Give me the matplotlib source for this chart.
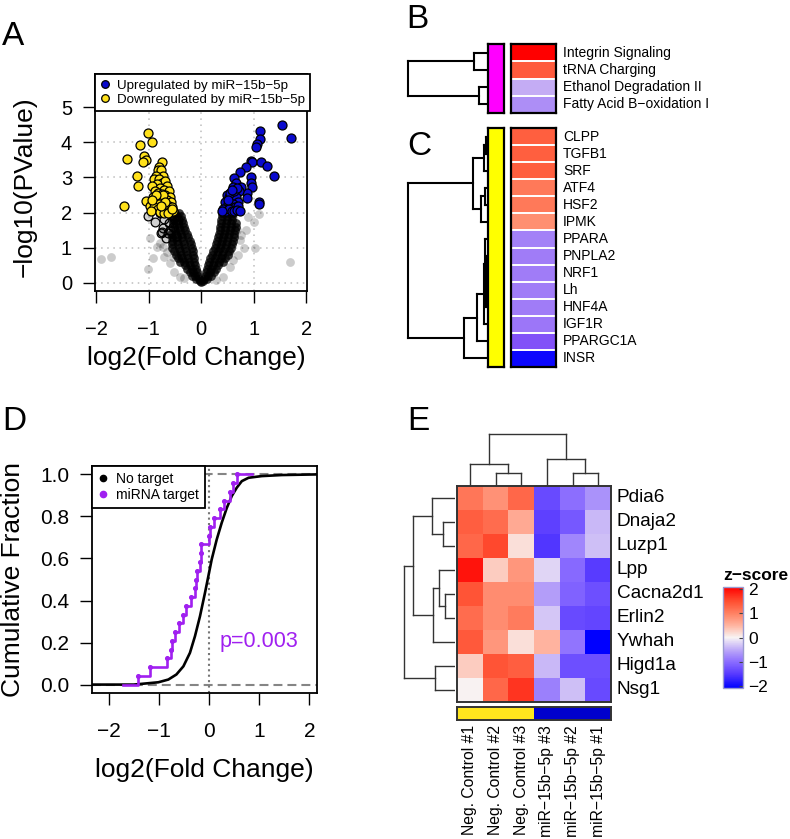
import numpy as np
import matplotlib
matplotlib.use("Agg")
import matplotlib.pyplot as plt
from matplotlib.colors import LinearSegmentedColormap, ListedColormap, Normalize
from matplotlib.lines import Line2D

plt.rcParams['font.family'] = ['Liberation Sans', 'DejaVu Sans']

# %% data -------------------------------------------------------------
# A: volcano plot (log2FC, -log10 p)
volcano_core = [
    (0.00, 0.02), (-0.03, 0.05), (0.03, 0.05),
    (-0.05, 0.1), (-0.10, 0.1), (0.05, 0.1), (0.10, 0.1),
    (-0.06, 0.2), (-0.12, 0.2), (-0.18, 0.2), (0.07, 0.2), (0.13, 0.2), (0.19, 0.2),
    (-0.08, 0.3), (-0.15, 0.3), (-0.22, 0.3), (0.09, 0.3), (0.16, 0.3), (0.24, 0.3),
    (-0.10, 0.4), (-0.18, 0.4), (-0.27, 0.4), (0.11, 0.4), (0.19, 0.4), (0.28, 0.4),
    (-0.12, 0.5), (-0.21, 0.5), (-0.30, 0.5), (0.13, 0.5), (0.22, 0.5), (0.31, 0.5),
    (-0.13, 0.6), (-0.23, 0.6), (-0.33, 0.6), (-0.40, 0.6), (0.15, 0.6), (0.25, 0.6), (0.34, 0.6), (0.42, 0.6),
    (-0.14, 0.7), (-0.25, 0.7), (-0.36, 0.7), (-0.45, 0.7), (0.17, 0.7), (0.27, 0.7), (0.37, 0.7), (0.46, 0.7),
    (-0.15, 0.8), (-0.27, 0.8), (-0.38, 0.8), (-0.48, 0.8), (0.20, 0.8), (0.30, 0.8), (0.40, 0.8), (0.50, 0.8),
    (-0.16, 0.9), (-0.29, 0.9), (-0.41, 0.9), (-0.52, 0.9), (0.23, 0.9), (0.32, 0.9), (0.42, 0.9), (0.53, 0.9),
    (-0.18, 1.0), (-0.30, 1.0), (-0.43, 1.0), (-0.55, 1.0), (0.26, 1.0), (0.35, 1.0), (0.45, 1.0), (0.56, 1.0),
    (-0.20, 1.1), (-0.32, 1.1), (-0.45, 1.1), (-0.56, 1.1), (0.28, 1.1), (0.37, 1.1), (0.47, 1.1), (0.58, 1.1),
    (-0.22, 1.2), (-0.34, 1.2), (-0.46, 1.2), (-0.56, 1.2), (0.30, 1.2), (0.39, 1.2), (0.49, 1.2), (0.60, 1.2),
    (-0.25, 1.3), (-0.36, 1.3), (-0.47, 1.3), (-0.56, 1.3), (0.31, 1.3), (0.41, 1.3), (0.51, 1.3), (0.62, 1.3),
    (-0.28, 1.4), (-0.38, 1.4), (-0.48, 1.4), (-0.57, 1.4), (0.33, 1.4), (0.43, 1.4), (0.53, 1.4), (0.63, 1.4),
    (-0.30, 1.5), (-0.40, 1.5), (-0.50, 1.5), (0.35, 1.5), (0.45, 1.5), (0.55, 1.5), (0.65, 1.5),
    (-0.33, 1.6), (-0.42, 1.6), (-0.52, 1.6), (0.36, 1.6), (0.46, 1.6), (0.56, 1.6), (0.66, 1.6),
    (-0.35, 1.7), (-0.44, 1.7), (-0.53, 1.7), (0.37, 1.7), (0.47, 1.7), (0.57, 1.7), (0.66, 1.7),
    (-0.37, 1.8), (-0.46, 1.8), (-0.54, 1.8), (0.38, 1.8), (0.48, 1.8), (0.58, 1.8),
    (-0.39, 1.9), (-0.47, 1.9), (-0.56, 1.9), (0.39, 1.9), (0.49, 1.9), (0.59, 1.9),
    (-0.42, 2.0), (-0.50, 2.0), (0.40, 2.0), (0.50, 2.0), (0.60, 2.0),
]
volcano_sparse = [
    (-1.90, 0.67), (-1.72, 0.74), (-1.01, 0.38), (-0.91, 0.69), (-0.98, 1.26),
    (-0.79, 1.12), (-0.73, 1.03), (-0.70, 0.74), (-0.60, 0.55), (-0.51, 0.31),
    (-0.41, 0.17), (-0.32, 0.12), (-0.66, 0.88), (-0.85, 1.03), (-0.54, 0.74),
    (1.68, 0.60), (1.03, 0.98), (0.82, 0.98), (0.85, 1.50), (0.89, 1.88),
    (1.01, 1.74), (1.09, 1.95), (0.60, 1.88), (0.68, 1.50), (0.73, 1.22),
    (0.54, 0.46), (0.41, 0.17), (0.28, 0.08), (0.60, 0.65), (0.76, 1.36),
    (0.54, 0.88), (0.70, 0.79),
]
volcano_open = [
    (-1.02, 1.90), (-0.87, 1.72), (-0.76, 1.41), (-0.72, 1.55), (-0.64, 1.41),
    (-0.62, 1.69), (-0.70, 1.81), (-0.78, 1.98), (-0.58, 1.93), (-0.53, 1.60),
    (-0.67, 1.27), (-0.48, 1.32), (-0.45, 1.79), (-0.57, 2.07), (-0.75, 1.44),
    (-0.60, 1.50), (-0.52, 1.85),
]
volcano_down = [
    (-1.47, 2.19), (-1.41, 3.52), (-1.17, 3.93), (-1.01, 4.28), (-0.94, 4.02),
    (-1.09, 3.61), (-1.06, 3.50), (-1.11, 3.45), (-1.22, 3.04), (-1.20, 2.76),
    (-1.05, 2.33), (-0.98, 2.20), (-0.74, 3.45), (-0.80, 3.30), (-0.83, 3.20),
    (-0.77, 3.22), (-0.72, 3.05), (-0.86, 3.05), (-0.90, 2.95), (-0.80, 2.95),
    (-0.75, 2.85), (-0.68, 2.90), (-0.65, 2.75), (-0.85, 2.80), (-0.93, 2.75),
    (-0.78, 2.70), (-0.70, 2.65), (-0.62, 2.60), (-0.88, 2.60), (-0.82, 2.55),
    (-0.75, 2.52), (-0.68, 2.50), (-0.60, 2.45), (-0.92, 2.45), (-0.85, 2.40),
    (-0.78, 2.40), (-0.72, 2.35), (-0.65, 2.35), (-0.58, 2.30), (-0.88, 2.30),
    (-0.80, 2.25), (-0.70, 2.20), (-0.62, 2.20), (-0.56, 2.15), (-0.90, 2.15),
    (-0.83, 2.10), (-0.75, 2.10), (-0.66, 2.10), (-0.60, 2.05), (-0.53, 2.05),
    (-0.95, 2.05), (-0.78, 2.02), (-0.70, 2.00), (-0.63, 2.00), (-0.73, 2.50),
    (-0.69, 2.30), (-0.77, 2.20), (-0.86, 2.50), (-0.93, 2.35), (-0.55, 2.10),
]
volcano_up = [
    (1.54, 4.50), (1.71, 4.12), (1.11, 4.33), (1.11, 4.09), (1.06, 3.95),
    (1.04, 3.88), (0.95, 3.48), (0.96, 3.45), (1.13, 3.43), (1.25, 3.34),
    (1.38, 3.05), (0.85, 3.29), (0.73, 3.17), (0.95, 3.02), (0.95, 2.83),
    (0.96, 2.74), (0.87, 2.57), (0.87, 2.42), (1.09, 2.31), (1.09, 2.24),
    (0.63, 2.98), (0.66, 2.83), (0.60, 2.74), (0.75, 2.74), (0.71, 2.60),
    (0.54, 2.55), (0.48, 2.50), (0.52, 2.45), (0.56, 2.40), (0.60, 2.50),
    (0.63, 2.35), (0.66, 2.45), (0.70, 2.30), (0.45, 2.30), (0.50, 2.25),
    (0.55, 2.20), (0.60, 2.25), (0.65, 2.15), (0.70, 2.20), (0.42, 2.10),
    (0.47, 2.05), (0.52, 2.10), (0.58, 2.05), (0.63, 2.05), (0.68, 2.08),
    (0.73, 2.05), (0.40, 2.05), (0.55, 2.55), (0.62, 2.60), (0.50, 2.35),
    (0.67, 2.70), (0.58, 2.65),
]

# B: pathways
path_names = ["Integrin Signaling", "tRNA Charging", "Ethanol Degradation II",
              "Fatty Acid B\u2212oxidation I"]
path_z = [3.0, 2.2, -1.0, -1.3]
path_merges = [(0, 1, 14), (2, 3, 9), (4, 5, 80)]

# C: upstream regulators
reg_names = ["CLPP", "TGFB1", "SRF", "ATF4", "HSF2", "IPMK", "PPARA", "PNPLA2",
             "NRF1", "Lh", "HNF4A", "IGF1R", "PPARGC1A", "INSR"]
reg_z = [2.0, 2.0, 2.0, 1.6, 1.6, 1.3, -1.45, -1.5, -1.5, -1.5, -1.5, -1.55, -2.0, -2.9]
reg_merges = [(0, 1, 2), (14, 2, 4.4), (3, 4, 2.7), (16, 5, 6.7), (15, 17, 15),
              (8, 9, 0.8), (7, 19, 1.5), (20, 10, 2.2), (6, 21, 3.5), (22, 11, 4.5),
              (23, 12, 11), (24, 13, 24.3), (18, 25, 80)]

# D: cumulative distributions
nt_x = [-2.33, -1.5, -1.41, -1.01, -0.81, -0.65, -0.51, -0.38, -0.28, -0.18, -0.08,
        -0.013, 0.053, 0.153, 0.253, 0.353, 0.453, 0.553, 0.653, 0.787, 1.05, 1.45, 2.15]
nt_F = [0, 0, 0.002, 0.011, 0.024, 0.048, 0.087, 0.151, 0.23, 0.325, 0.437,
        0.516, 0.595, 0.69, 0.77, 0.84, 0.897, 0.937, 0.968, 0.984, 0.992, 0.997, 1.0]
target_lfc = [-1.41, -1.18, -0.83, -0.75, -0.73, -0.68, -0.59, -0.51, -0.45, -0.36,
              -0.28, -0.26, -0.24, -0.17, -0.16, -0.15, 0.00, 0.02, 0.09, 0.21,
              0.29, 0.41, 0.47, 0.55]
target_range = (-1.71, 0.85)

# E: heatmap of z-scores
genes = ["Pdia6", "Dnaja2", "Luzp1", "Lpp", "Cacna2d1", "Erlin2", "Ywhah", "Higd1a", "Nsg1"]
samples = ["Neg. Control #1", "Neg. Control #2", "Neg. Control #3",
           "miR\u221215b\u22125p #3", "miR\u221215b\u22125p #2", "miR\u221215b\u22125p #1"]
sample_group = [0, 0, 0, 1, 1, 1]
zscores = [
    [1.1, 0.85, 1.25, -1.35, -1.0, -0.7],
    [1.35, 1.2, 0.6, -1.45, -1.2, -0.4],
    [1.25, 1.55, 0.15, -1.55, -0.8, -0.35],
    [1.95, 0.3, 0.8, -0.2, -1.05, -1.5],
    [1.45, 0.9, 0.9, -0.6, -1.1, -1.3],
    [1.2, 0.9, 1.05, -0.3, -1.35, -1.4],
    [1.4, 0.8, 0.15, 0.5, -0.95, -2.1],
    [0.3, 1.45, 1.35, -0.4, -1.3, -1.3],
    [0.0, 1.25, 1.7, -0.85, -0.35, -1.35],
]
gene_merges = [(1, 2, 11.7), (0, 9, 23.3), (4, 5, 10), (3, 11, 15.7), (12, 6, 22.3),
               (10, 13, 42.3), (7, 8, 20), (14, 15, 51)]
sample_merges = [(1, 2, 13.3), (0, 6, 22.3), (4, 5, 13.3), (3, 8, 27), (7, 9, 52)]

# %% helpers ---------------------------------------------------------
W, H = 790, 839
fig = plt.figure(figsize=(W / 100, H / 100), dpi=100)


def px_axes(l, t, r, b):
    return fig.add_axes([l / W, 1 - b / H, (r - l) / W, (b - t) / H])


def dendro_segments(merges, n):
    pos = [i + 0.5 for i in range(n)]
    hgt = [0.0] * n
    segs = []
    for a, b, h in merges:
        segs.append(((hgt[a], h), (pos[a], pos[a])))
        segs.append(((hgt[b], h), (pos[b], pos[b])))
        segs.append(((h, h), (pos[a], pos[b])))
        pos.append((pos[a] + pos[b]) / 2)
        hgt.append(h)
    return segs


def bare(ax):
    ax.set_xticks([])
    ax.set_yticks([])


def style_axes(ax):
    for s in ax.spines.values():
        s.set_linewidth(1.3)
    ax.tick_params(direction='out', length=8.5, width=1.0)
    ax.tick_params(axis='x', pad=12.5)
    ax.tick_params(axis='y', pad=8)


purple = '#A020F0'
dark_line = '#333333'

# %% A: volcano ---------------------------------------------------------
axA = px_axes(95, 74, 307, 291)
axA.set_xlim(-2.02, 2.01)
axA.set_ylim(-0.237, 5.95)
for v in [-1, 0, 1]:
    axA.axvline(v, color='#bdbdbd', lw=1.1, ls=(0, (1, 3)), zorder=0)
for v in [0, 1, 2, 3, 4, 5]:
    axA.axhline(v, color='#bdbdbd', lw=1.1, ls=(0, (1, 3)), zorder=0)

core = np.array(volcano_core)
sparse = np.array(volcano_sparse)
opened = np.array(volcano_open)
down = np.array(volcano_down)
up = np.array(volcano_up)
axA.scatter(sparse[:, 0], sparse[:, 1], s=40, color='black', alpha=0.2, lw=0)
axA.scatter(core[:, 0], core[:, 1], s=40, color='black', alpha=0.75, lw=0)
axA.scatter(opened[:, 0], opened[:, 1], s=40, facecolor=(0, 0, 0, 0.18),
            edgecolor='black', lw=0.9)
axA.scatter(down[:, 0], down[:, 1], s=42, facecolor='#FFE11A', edgecolor='black', lw=0.9)
axA.scatter(up[:, 0], up[:, 1], s=42, facecolor='#0A0ACD', edgecolor='black', lw=0.9)

handlesA = [Line2D([], [], ls='none', marker='o', ms=5.5, mfc='#0A0ACD', mec='black', mew=0.9),
            Line2D([], [], ls='none', marker='o', ms=5.5, mfc='#FFE11A', mec='black', mew=0.9)]
legA = axA.legend(handlesA, ["Upregulated by miR\u221215b\u22125p",
                             "Downregulated by miR\u221215b\u22125p"],
                  loc='upper left', bbox_to_anchor=(0, 1), borderaxespad=0, fontsize=9.6,
                  frameon=True, fancybox=False, edgecolor='black', framealpha=1,
                  handlelength=0.7, handletextpad=0.55, borderpad=0.4, labelspacing=0.15)
legA.get_frame().set_linewidth(1.3)

axA.set_xticks([-2, -1, 0, 1, 2])
axA.set_yticks([0, 1, 2, 3, 4, 5])
style_axes(axA)
axA.tick_params(labelsize=14.5)
axA.set_xlabel("log2(Fold Change)", fontsize=19, va='center')
axA.xaxis.set_label_coords(0.48, (291 - 358) / 217)
axA.set_ylabel("\u2212log10(PValue)", fontsize=19, va='center')
axA.yaxis.set_label_coords((25 - 95) / 212, 0.479)

# %% D: cumulative fraction -----------------------------------------------
axD = px_axes(92, 466, 317, 693)
axD.set_xlim(-2.33, 2.15)
axD.set_ylim(-0.04, 1.04)
axD.axhline(0, color='#858585', lw=1.5, ls=(0, (4.3, 2.4)), zorder=1)
axD.axhline(1, color='#858585', lw=1.5, ls=(0, (4.3, 2.4)), zorder=1)
axD.axvline(0, color='#777777', lw=1.5, ls=(0, (1, 1.6)), zorder=1)
axD.plot(nt_x, nt_F, color='black', lw=1.9, zorder=3)

n_t = len(target_lfc)
step_x = [target_range[0]] + target_lfc + [target_range[1]]
step_y = [0] + [(k + 1) / n_t for k in range(n_t)] + [1]
axD.plot(step_x, step_y, drawstyle='steps-post', color=purple, lw=1.9, zorder=4)
axD.scatter(target_lfc, [(k + 1) / n_t for k in range(n_t)], s=7, color=purple, zorder=5)
axD.text(1.0, 0.206, "p=0.003", color=purple, fontsize=15.5, ha='center', va='center')

handlesD = [Line2D([], [], ls='none', marker='o', ms=4.5, color='black'),
            Line2D([], [], ls='none', marker='o', ms=4.5, color=purple)]
legD = axD.legend(handlesD, ["No target", "miRNA target"], loc='upper left',
                  bbox_to_anchor=(0, 1), borderaxespad=0, fontsize=10, frameon=True,
                  fancybox=False, edgecolor='black', framealpha=1, handlelength=0.7,
                  handletextpad=0.6, borderpad=0.45, labelspacing=0.12)
legD.get_frame().set_linewidth(1.3)

axD.set_xticks([-2, -1, 0, 1, 2])
axD.set_yticks([0, 0.2, 0.4, 0.6, 0.8, 1.0])
axD.set_yticklabels(["0.0", "0.2", "0.4", "0.6", "0.8", "1.0"])
style_axes(axD)
axD.tick_params(labelsize=15)
axD.set_xlabel("log2(Fold Change)", fontsize=19, va='center')
axD.xaxis.set_label_coords(0.5, (693 - 770) / 227)
axD.set_ylabel("Cumulative Fraction", fontsize=19, va='center')
axD.yaxis.set_label_coords((13 - 92) / 225, 0.5)

# %% B and C: colour columns ----------------------------------------------
bc_cmap = LinearSegmentedColormap.from_list("bc", [
    (0.0, '#0000FF'), (1 / 6, '#8452F8'), (0.25, '#A07CF8'), (1 / 3, '#C4ACF4'),
    (0.5, '#FFFFFF'), (2 / 3, '#FFA890'), (0.7167, '#FF9072'), (0.7667, '#FF7A5A'),
    (5 / 6, '#FF6040'), (0.8667, '#FF5A3C'), (1.0, '#FF0000')])
bc_norm = Normalize(-3, 3)


def colour_block(top, bottom, names, values, merges, bar_colour):
    n = len(names)
    axd = px_axes(400, top, 488, bottom)
    for hx, py in dendro_segments(merges, n):
        axd.plot(hx, py, color='black', lw=1.5, solid_capstyle='projecting')
    axd.set_xlim(88, 0)
    axd.set_ylim(n, 0)
    axd.axis('off')

    axb = px_axes(488, top, 504, bottom)
    axb.set_facecolor(bar_colour)
    bare(axb)
    for s in axb.spines.values():
        s.set_linewidth(1.6)

    axh = px_axes(511, top, 556, bottom)
    axh.imshow(np.array(values)[:, None], cmap=bc_cmap, norm=bc_norm, aspect='auto',
               extent=(0, 1, n, 0), interpolation='nearest')
    for i in range(1, n):
        axh.axhline(i, color='white', lw=1.4)
    bare(axh)
    for s in axh.spines.values():
        s.set_linewidth(1.6)
    for i, name in enumerate(names):
        axh.text(1 + 7 / 45, i + 0.5, name, fontsize=10, ha='left', va='center',
                 clip_on=False)


colour_block(44, 113, path_names, path_z, path_merges, '#FF00FF')
colour_block(128, 367, reg_names, reg_z, reg_merges, '#FFFF00')

# %% E: heatmap -------------------------------------------------------------
zcmap = LinearSegmentedColormap.from_list("zscore", [
    (0.0, '#0000FF'), (0.6 / 4.2, '#5A3CFF'), (1.1 / 4.2, '#8C6EFF'),
    (1.6 / 4.2, '#BEAAF8'), (0.5, '#F8F4F4'), (2.6 / 4.2, '#FFB4A0'),
    (3.1 / 4.2, '#FF8264'), (3.6 / 4.2, '#FF5032'), (1.0, '#FF0000')])
axE = px_axes(457, 486, 611, 702)
imE = axE.imshow(np.array(zscores), cmap=zcmap, vmin=-2.1, vmax=2.1, aspect='auto',
                 extent=(0, 6, 9, 0), interpolation='nearest')
bare(axE)
for s in axE.spines.values():
    s.set_linewidth(1.4)
    s.set_color(dark_line)
for i, g in enumerate(genes):
    axE.text(6 + 6 / 25.7, i + 0.5, g, fontsize=13.7, ha='left', va='center')

axAnn = px_axes(457, 707, 611, 720)
axAnn.imshow(np.array([sample_group]), cmap=ListedColormap(['#FFE61E', '#0000CD']),
             aspect='auto', extent=(0, 6, 1, 0), interpolation='nearest')
bare(axAnn)
for s in axAnn.spines.values():
    s.set_linewidth(1.4)
    s.set_color(dark_line)
for i, smp in enumerate(samples):
    axAnn.text(i + 0.5, 1 + 5 / 13, smp, rotation=90, fontsize=11.3, ha='center', va='top')

axCD = px_axes(457, 428, 611, 486)
for hy, px in dendro_segments(sample_merges, 6):
    axCD.plot(px, hy, color=dark_line, lw=1.0, solid_capstyle='projecting')
axCD.set_xlim(0, 6)
axCD.set_ylim(0, 58)
axCD.axis('off')

axRD = px_axes(398, 486, 455, 702)
for hx, py in dendro_segments(gene_merges, 9):
    axRD.plot(hx, py, color=dark_line, lw=1.0, solid_capstyle='projecting')
axRD.set_xlim(57, 0)
axRD.set_ylim(9, 0)
axRD.axis('off')

cax = px_axes(723, 587, 743, 688)
cb = fig.colorbar(imE, cax=cax, ticks=[-2, -1, 0, 1, 2])
cb.outline.set_edgecolor('#9a9ad0')
cb.outline.set_linewidth(1.0)
cb.ax.tick_params(labelsize=12.5, length=3, direction='in', pad=4, color='#444444')
fig.text(723 / W, 1 - 575 / H, "z\u2212score", fontsize=12.5, fontweight='bold',
         ha='left', va='center')

# %% panel letters -------------------------------------------------------
for letter, x, y in [("A", 2, 45), ("B", 406, 28), ("C", 407, 155),
                     ("D", 2, 430), ("E", 407, 430)]:
    fig.text(x / W, 1 - y / H, letter, fontsize=24, ha='left', va='baseline')

fig.savefig("out.png", dpi=100)
